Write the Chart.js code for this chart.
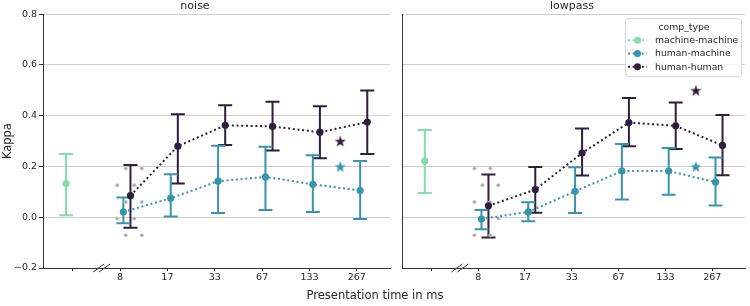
<!DOCTYPE html>
<html>
<head>
<meta charset="utf-8">
<script src="https://cdn.jsdelivr.net/npm/chart.js@4"></script>
<style>
  html, body { margin: 0; padding: 0; background: #fff; }
  #wrap { position: relative; width: 750px; height: 306px; font-family: 'DejaVu Sans', sans-serif; }
  .panel { position: absolute; top: 0; height: 306px; }
  #left { left: 0; width: 395px; }
  #right { left: 395px; width: 355px; }
  #xlabel { position: absolute; left: 0; width: 750px; top: 288px; text-align: center; font-size: 11.5px; color: #262626; line-height: 14px; }
</style>
</head>
<body>
<div id="wrap">
  <div class="panel" id="left"><canvas id="noiseChart" width="395" height="306"></canvas></div>
  <div class="panel" id="right"><canvas id="lowpassChart" width="355" height="306"></canvas></div>
  <div id="xlabel">Presentation time in ms</div>
</div>
<script>
// x categories (first slot holds the machine-machine point, no label)
const timeLabels = ['8', '17', '33', '67', '133', '267'];
const xTickLabels = [''].concat(timeLabels);
const yTicks = [-0.2, 0, 0.2, 0.4, 0.6, 0.8];
const yTickLabels = ['\u22120.2', '0.0', '0.2', '0.4', '0.6', '0.8'];

const seriesNames = ['machine-machine', 'human-machine', 'human-human'];
const seriesColors = ['#86dbad', '#3794aa', '#2e1f3d'];

// noise
const noiseMM = [0.133], noiseMMLo = [0.008], noiseMMHi = [0.249];
const noiseHM = [0.021, 0.075, 0.142, 0.159, 0.130, 0.105];
const noiseHMLo = [-0.024, 0.003, 0.017, 0.029, 0.021, -0.007];
const noiseHMHi = [0.078, 0.169, 0.282, 0.278, 0.244, 0.222];
const noiseHH = [0.085, 0.280, 0.362, 0.358, 0.335, 0.375];
const noiseHHLo = [-0.041, 0.133, 0.285, 0.263, 0.232, 0.249];
const noiseHHHi = [0.206, 0.406, 0.441, 0.455, 0.437, 0.499];
const noiseStars = [0.2, 0.3]; // human-machine, human-human
const noiseDotsX = [1.12, 1.46, 0.94, 1.30, 1.12, 1.46, 0.94, 1.30, 1.12, 1.46];
const noiseDotsY = [0.192, 0.192, 0.126, 0.126, 0.060, 0.060, -0.005, -0.005, -0.071, -0.071];

// lowpass
const lowMM = [0.222], lowMMLo = [0.096], lowMMHi = [0.344];
const lowHM = [-0.007, 0.021, 0.102, 0.182, 0.182, 0.138];
const lowHMLo = [-0.047, -0.016, 0.017, 0.070, 0.089, 0.046];
const lowHMHi = [0.029, 0.059, 0.197, 0.289, 0.273, 0.235];
const lowHH = [0.045, 0.109, 0.253, 0.373, 0.360, 0.283];
const lowHHLo = [-0.080, 0.018, 0.164, 0.280, 0.269, 0.165];
const lowHHHi = [0.168, 0.198, 0.350, 0.470, 0.452, 0.403];
const lowStars = [0.2, 0.5];
const lowDotsX = [0.92, 1.26, 1.09, 1.43, 0.92, 1.26, 1.09, 1.43, 0.92, 1.26];
const lowDotsY = [0.192, 0.192, 0.126, 0.126, 0.060, 0.060, -0.005, -0.005, -0.071, -0.071];

const FONT = "'DejaVu Sans', sans-serif";
const dodge = [-0.14, 0.07, 0.22];
const starX = 5.65;
const breakX = 0.61;

function starImage(color) {
  const c = document.createElement('canvas');
  c.width = 14; c.height = 14;
  const g = c.getContext('2d');
  g.fillStyle = color;
  g.beginPath();
  for (let i = 0; i < 10; i++) {
    const r = i % 2 ? 2.4 : 6;
    const a = -Math.PI / 2 + i * Math.PI / 5;
    g.lineTo(7 + r * Math.cos(a), 7.6 + r * Math.sin(a));
  }
  g.closePath();
  g.fill();
  return c;
}

const errorBars = {
  id: 'errorBars',
  beforeDatasetsDraw(chart) {
    const { ctx, scales: { x, y } } = chart;
    chart.data.datasets.forEach(ds => {
      if (!ds.errLo) return;
      ctx.save();
      ctx.strokeStyle = ds.borderColor;
      ctx.lineWidth = 2;
      ds.data.forEach((p, i) => {
        const px = x.getPixelForValue(p.x);
        const top = y.getPixelForValue(ds.errHi[i]);
        const bot = y.getPixelForValue(ds.errLo[i]);
        ctx.beginPath();
        ctx.moveTo(px, top); ctx.lineTo(px, bot);
        ctx.moveTo(px - 7, top); ctx.lineTo(px + 7, top);
        ctx.moveTo(px - 7, bot); ctx.lineTo(px + 7, bot);
        ctx.stroke();
      });
      ctx.restore();
    });
  }
};

const axisBreak = {
  id: 'axisBreak',
  afterDraw(chart) {
    const { ctx, chartArea, scales: { x } } = chart;
    const cx = x.getPixelForValue(breakX);
    const b = chartArea.bottom;
    ctx.save();
    ctx.strokeStyle = '#333';
    ctx.lineWidth = 1;
    [-3, 3].forEach(off => {
      ctx.beginPath();
      ctx.moveTo(cx + off - 5.5, b + 4);
      ctx.lineTo(cx + off + 5.5, b - 4);
      ctx.stroke();
    });
    ctx.restore();
  }
};

const boxLegend = {
  id: 'boxLegend',
  afterDraw(chart, args, opts) {
    if (!opts.show) return;
    const { ctx, chartArea } = chart;
    const w = 116, h = 58;
    const left = chartArea.right - 4 - w, top = chartArea.top + 4;
    ctx.save();
    ctx.fillStyle = 'rgba(255,255,255,0.8)';
    ctx.strokeStyle = '#d6d6d6';
    ctx.lineWidth = 1;
    ctx.beginPath();
    ctx.roundRect(left + 0.5, top + 0.5, w, h, 3);
    ctx.fill();
    ctx.stroke();
    ctx.fillStyle = '#262626';
    ctx.font = '9.3px ' + FONT;
    ctx.textBaseline = 'middle';
    ctx.textAlign = 'center';
    ctx.fillText('comp_type', left + w / 2 + 1, top + 9);
    ctx.textAlign = 'left';
    seriesNames.forEach((name, i) => {
      const yy = top + 22 + i * 13.3;
      ctx.strokeStyle = seriesColors[i];
      ctx.lineWidth = 2;
      ctx.setLineDash([2, 2.6]);
      ctx.beginPath();
      ctx.moveTo(left + 3, yy); ctx.lineTo(left + 22, yy);
      ctx.stroke();
      ctx.setLineDash([]);
      ctx.fillStyle = seriesColors[i];
      ctx.beginPath();
      ctx.arc(left + 12.5, yy, 3.5, 0, Math.PI * 2);
      ctx.fill();
      ctx.fillStyle = '#262626';
      ctx.fillText(name, left + 30, yy + 0.5);
    });
    ctx.restore();
  }
};

function seriesPoints(vals, k) {
  return vals.map((v, i) => ({ x: (k === 0 ? 0 : i + 1) + dodge[k], y: v }));
}

function makePanel(canvasId, title, d, isLeft) {
  const datasets = [
    {
      label: seriesNames[2], data: seriesPoints(d.hh, 2), errLo: d.hhLo, errHi: d.hhHi,
      borderColor: seriesColors[2], backgroundColor: seriesColors[2],
      borderWidth: 2, borderDash: [2, 2.7], pointRadius: 3.6, pointBorderWidth: 0
    },
    {
      label: seriesNames[1], data: seriesPoints(d.hm, 1), errLo: d.hmLo, errHi: d.hmHi,
      borderColor: seriesColors[1], backgroundColor: seriesColors[1],
      borderWidth: 2, borderDash: [2, 2.7], pointRadius: 3.6, pointBorderWidth: 0
    },
    {
      label: seriesNames[0], data: seriesPoints(d.mm, 0), errLo: d.mmLo, errHi: d.mmHi,
      borderColor: seriesColors[0], backgroundColor: seriesColors[0],
      showLine: false, pointRadius: 3.6, pointBorderWidth: 0
    },
    {
      label: 'hh star', data: [{ x: starX, y: d.stars[1] }], showLine: false,
      pointStyle: starImage(seriesColors[2])
    },
    {
      label: 'hm star', data: [{ x: starX, y: d.stars[0] }], showLine: false,
      pointStyle: starImage(seriesColors[1])
    },
    {
      label: 'dots', data: d.dotsX.map((x, i) => ({ x, y: d.dotsY[i] })), showLine: false,
      pointRadius: 1.8, backgroundColor: '#a9a9a9', borderColor: '#d8d8d8', pointBorderWidth: 0.6
    }
  ];

  return new Chart(document.getElementById(canvasId), {
    type: 'line',
    data: { datasets },
    plugins: [errorBars, axisBreak, boxLegend],
    options: {
      responsive: false,
      animation: false,
      events: [],
      layout: { padding: { left: 0, right: isLeft ? 5 : 1, top: 0, bottom: 0 } },
      plugins: {
        legend: { display: false },
        tooltip: { enabled: false },
        title: {
          display: true, text: title, color: '#262626',
          font: { family: FONT, size: 11, weight: 'normal' },
          padding: { top: 0, bottom: 1 }
        },
        boxLegend: { show: !isLeft }
      },
      scales: {
        x: {
          type: 'linear', min: -0.627, max: 6.70,
          afterBuildTicks: s => { s.ticks = xTickLabels.map((_, i) => ({ value: i })); },
          afterFit: s => { s.height = 38; },
          ticks: {
            callback: v => xTickLabels[v], autoSkip: false, maxRotation: 0,
            color: '#262626', padding: 1, font: { family: FONT, size: 9.5 }
          },
          grid: { drawOnChartArea: false, drawTicks: true, tickLength: 3, color: '#333' },
          border: { display: true, color: '#333', width: 1 }
        },
        y: {
          min: -0.2, max: 0.8,
          afterBuildTicks: s => { s.ticks = yTicks.map(v => ({ value: v })); },
          afterFit: s => { s.width = isLeft ? 43 : 7; },
          ticks: {
            display: isLeft, callback: (v, i) => yTickLabels[i],
            color: '#262626', padding: 2, font: { family: FONT, size: 9.5 }
          },
          grid: { color: '#cfcfcf', lineWidth: 1, drawTicks: isLeft, tickLength: 4, tickColor: '#333' },
          border: { display: true, color: '#333', width: 1 },
          title: {
            display: isLeft, text: 'Kappa', color: '#262626',
            font: { family: FONT, size: 11.5 }, padding: { top: 1, bottom: 0 }
          }
        }
      }
    }
  });
}

makePanel('noiseChart', 'noise', {
  mm: noiseMM, mmLo: noiseMMLo, mmHi: noiseMMHi,
  hm: noiseHM, hmLo: noiseHMLo, hmHi: noiseHMHi,
  hh: noiseHH, hhLo: noiseHHLo, hhHi: noiseHHHi,
  stars: noiseStars, dotsX: noiseDotsX, dotsY: noiseDotsY
}, true);

makePanel('lowpassChart', 'lowpass', {
  mm: lowMM, mmLo: lowMMLo, mmHi: lowMMHi,
  hm: lowHM, hmLo: lowHMLo, hmHi: lowHMHi,
  hh: lowHH, hhLo: lowHHLo, hhHi: lowHHHi,
  stars: lowStars, dotsX: lowDotsX, dotsY: lowDotsY
}, false);
</script>
</body>
</html>
